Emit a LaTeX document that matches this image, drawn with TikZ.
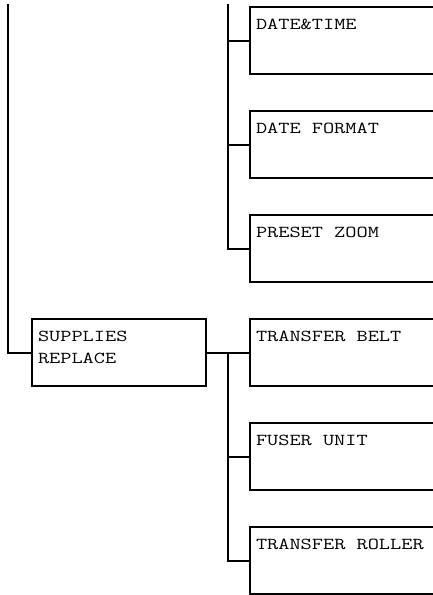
\documentclass[tikz,border=0pt]{standalone}
\usepackage{fontspec}
\newfontfamily\boxfont{Latin Modern Mono}[FakeStretch=1.3]
\newcommand{\boxtxt}[2]{\parbox[t][43pt][t]{#1}{#2}}

\begin{document}
\begin{tikzpicture}[x=1pt, y=-1pt, line width=2pt, line join=miter,
		menubox/.style={draw, anchor=north west, inner xsep=6pt, inner ysep=12pt,
			font=\boxfont\fontsize{16.7}{22}\selectfont}]
	\useasboundingbox (0,0) rectangle (433,595);
	\clip (0,0) rectangle (433,595);
	
	\coordinate (L) at (8,4);
	\coordinate (T) at (228,4);
	
	\node[menubox] (supp) at (31,318) {\boxtxt{162pt}{SUPPLIES\\REPLACE}};
	
	\foreach \nm/\y/\txt in {date/6/DATE\&TIME, fmt/110/DATE FORMAT, zoom/214/PRESET ZOOM,
		belt/318/TRANSFER BELT, fuser/422/FUSER UNIT, roller/526/TRANSFER ROLLER}
	\node[menubox] (\nm) at (249,\y) {\boxtxt{190pt}{\txt}};
	
	% upper branch
	\draw (T) |- (zoom.west);
	\draw (date.west -| T) -- (date.west);
	\draw (fmt.west -| T) -- (fmt.west);
	
	% supplies replace
	\draw (L) |- (supp.west);
	\draw (supp.east) -- (belt.west);
	\draw (supp.east -| T) |- (roller.west);
	\draw (fuser.west -| T) -- (fuser.west);
\end{tikzpicture}
\end{document}
